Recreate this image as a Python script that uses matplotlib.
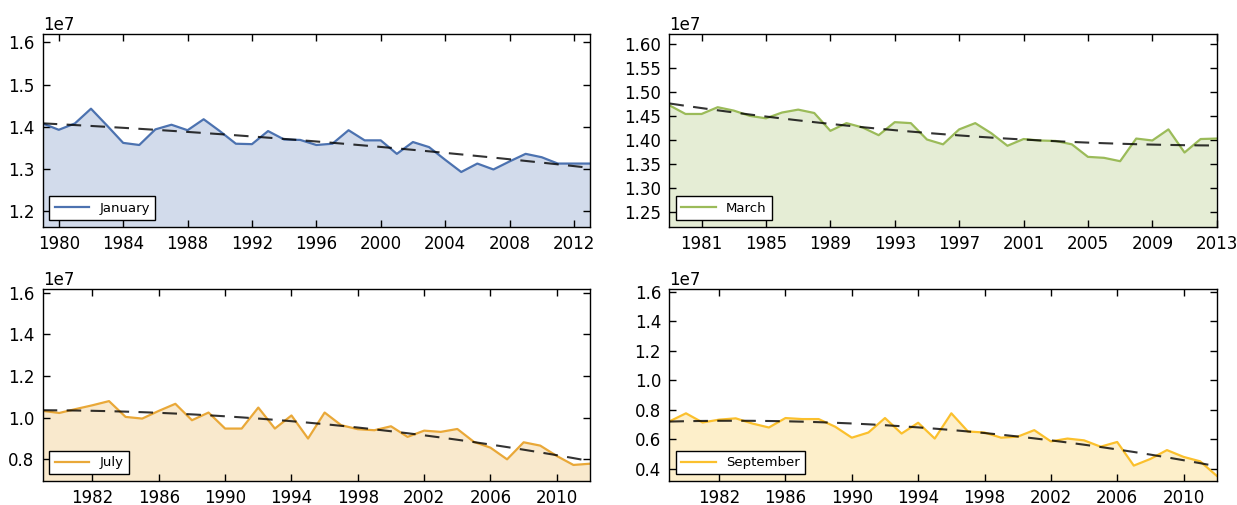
import numpy as np
import matplotlib
matplotlib.use("Agg")
import matplotlib.pyplot as plt
from matplotlib.ticker import MultipleLocator

plt.rcParams['font.family'] = ['DejaVu Sans']
plt.rcParams['font.size'] = 12

jan_years = np.arange(1979, 2014)
jan_vals = np.array([1.408, 1.393, 1.408, 1.443, 1.403, 1.362, 1.357, 1.394, 1.405, 1.392,
                     1.418, 1.390, 1.360, 1.359, 1.390, 1.370, 1.369, 1.357, 1.360, 1.392,
                     1.368, 1.368, 1.336, 1.364, 1.352, 1.322, 1.293, 1.313, 1.299, 1.318,
                     1.336, 1.328, 1.313, 1.313, 1.313]) * 1e7

mar_years = np.arange(1979, 2014)
mar_vals = np.array([1.472, 1.454, 1.454, 1.468, 1.461, 1.450, 1.445, 1.457, 1.463, 1.456,
                     1.419, 1.435, 1.426, 1.410, 1.437, 1.435, 1.401, 1.391, 1.422, 1.435,
                     1.414, 1.388, 1.402, 1.399, 1.398, 1.391, 1.365, 1.363, 1.356, 1.403,
                     1.399, 1.422, 1.374, 1.402, 1.403]) * 1e7

jul_years = np.arange(1979, 2013)
jul_vals = np.array([1.032, 1.022, 1.041, 1.059, 1.079, 1.003, 0.995, 1.032, 1.066, 0.987,
                     1.024, 0.947, 0.947, 1.048, 0.947, 1.010, 0.899, 1.024, 0.963, 0.944,
                     0.939, 0.958, 0.907, 0.937, 0.931, 0.945, 0.883, 0.855, 0.799, 0.881,
                     0.865, 0.815, 0.772, 0.778]) * 1e7

sep_years = np.arange(1979, 2013)
sep_vals = np.array([0.721, 0.776, 0.714, 0.733, 0.742, 0.707, 0.680, 0.744, 0.737, 0.737,
                     0.685, 0.611, 0.646, 0.744, 0.639, 0.712, 0.605, 0.776, 0.653, 0.646,
                     0.611, 0.618, 0.662, 0.586, 0.605, 0.593, 0.550, 0.582, 0.422, 0.467,
                     0.527, 0.481, 0.451, 0.353]) * 1e7

months = ['January', 'March', 'July', 'September']
colors = ['#4C72B0', '#9BBB59', '#E9A838', '#FBC02D']
tick_starts = [1980, 1981, 1982, 1982]
ytick_steps = [0.1e7, 0.05e7, 0.2e7, 0.2e7]

series = [(jan_years, jan_vals), (mar_years, mar_vals),
          (jul_years, jul_vals), (sep_years, sep_vals)]
global_max = max(v.max() for _, v in series)

fig, axes = plt.subplots(2, 2, figsize=(12.37, 5.05), dpi=100)
fig.subplots_adjust(left=0.0345, right=0.9836, bottom=0.0475, top=0.932,
                    wspace=0.145, hspace=0.3236)

for ax, (yrs, vals), name, col, ts, ys in zip(axes.flat, series, months, colors,
                                              tick_starts, ytick_steps):
    ax.fill_between(yrs, 0, vals, color=col, alpha=0.25, lw=0)
    ax.plot(yrs, vals, color=col, lw=1.6, label=name)
    coef = np.polyfit(yrs, vals, 2)
    ax.plot(yrs, np.polyval(coef, yrs), color='k', alpha=0.8, lw=1.5,
            dashes=(7, 4.5))
    ax.set_xlim(yrs[0], yrs[-1])
    ax.set_ylim(0.9 * vals.min(), 1.1 * global_max)
    ax.set_xticks(np.arange(ts, yrs[-1] + 1, 4))
    ax.yaxis.set_major_locator(MultipleLocator(ys))
    ax.tick_params(direction='in', length=5, width=1, top=True, right=True,
                   labelsize=12, pad=6)
    for sp in ax.spines.values():
        sp.set_linewidth(1.0)
        sp.set_color('black')
    leg = ax.legend(loc='lower left', fontsize=9.5, fancybox=False, framealpha=1,
                    edgecolor='black', borderaxespad=0.5, handlelength=2.6)
    leg.get_frame().set_linewidth(1.0)

fig.savefig('out.png', dpi=100, facecolor='white')
